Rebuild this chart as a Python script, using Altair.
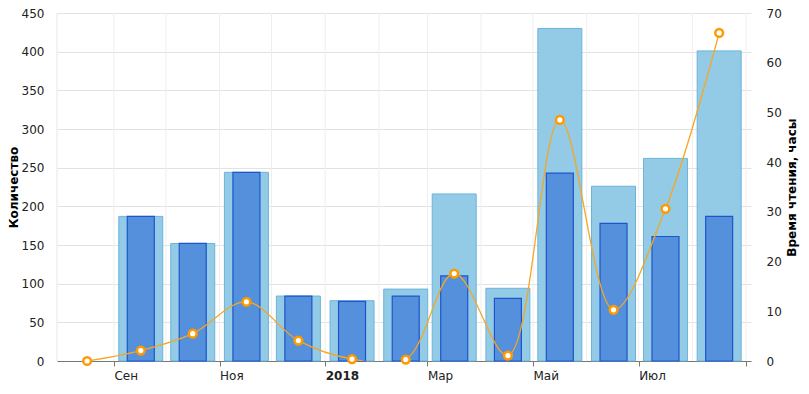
import altair as alt
import pandas as pd

# ---- data ----
bar_months = ["2017-09", "2017-10", "2017-11", "2017-12", "2018-01", "2018-02",
              "2018-03", "2018-04", "2018-05", "2018-06", "2018-07", "2018-08"]
total_counts = [187, 152, 244, 84, 78, 93, 216, 94, 430, 226, 262, 401]
read_counts = [187, 152, 244, 84, 77, 84, 110, 81, 243, 178, 161, 187]

line_months = ["2017-08"] + bar_months
reading_hours = [0, 2.1, 5.5, 11.9, 4.1, 0.4, 0.3, 17.6, 1.1, 48.5, 10.3, 30.6, 66]

grid_months = ["2017-09", "2017-10", "2017-11", "2017-12", "2018-01",
               "2018-02", "2018-03", "2018-04", "2018-05", "2018-06", "2018-07",
               "2018-08", "2018-09"]

FONT = "DejaVu Sans"


def mid(m):
    return m + "-16T12:00:00"


def start(m):
    return m + "-01T00:00:00"


bars = pd.DataFrame({"date": [mid(m) for m in bar_months],
                     "total": total_counts, "read": read_counts})
line = pd.DataFrame({"date": [mid(m) for m in line_months], "hours": reading_hours})
grid = pd.DataFrame({"date": [start(m) for m in grid_months]})

tick_values = [alt.DateTime(year=2017, month=9, date=1),
               alt.DateTime(year=2017, month=11, date=1),
               alt.DateTime(year=2018, month=1, date=1),
               alt.DateTime(year=2018, month=3, date=1),
               alt.DateTime(year=2018, month=5, date=1),
               alt.DateTime(year=2018, month=7, date=1),
               alt.DateTime(year=2018, month=9, date=1)]

label_expr = ("month(datum.value) == 0 ? timeFormat(datum.value, '%Y') : "
              "(datum.value >= time(datetime(2018, 7, 15)) ? '' : "
              "['Янв','Фев','Мар','Апр','Май','Июн','Июл','Авг','Сен','Окт','Ноя','Дек']"
              "[month(datum.value)])")

x_scale = alt.Scale(domain=[alt.DateTime(year=2017, month=8, date=2),
                            alt.DateTime(year=2018, month=9, date=1)], nice=False)
x_axis = alt.Axis(values=tick_values, labelExpr=label_expr, labelAlign="left",
                  labelPadding=4, labelOffset=0, tickSize=5, tickColor="#777777",
                  domainColor="#777777", grid=False, title=None,
                  labelFontWeight={"condition": {"test": "month(datum.value) == 0",
                                                 "value": "bold"},
                                   "value": "normal"})
X = alt.X("date:T", scale=x_scale, axis=x_axis)

left_scale = alt.Scale(domain=[0, 450], nice=False)
left_axis = alt.Axis(values=list(range(0, 451, 50)), title="Количество",
                     domain=False, ticks=False, labelPadding=13,
                     titleX=-49, titleBaseline="top",
                     grid=True, gridColor="#e2e2e2")

# left edge of the plot (light vertical line) plus month-start gridlines
edge = alt.Chart(pd.DataFrame({"v": [0]})).mark_rule(color="#e6e6e6").encode(
    x=alt.value(0))
vgrid = alt.Chart(grid).mark_rule(color="#eeeeee", strokeWidth=1).encode(x=X)

light = alt.Chart(bars).mark_bar(size=44, color="#93cbe6", stroke="#6ab4dc",
                                 strokeWidth=1).encode(
    x=X, y=alt.Y("total:Q", scale=left_scale, axis=left_axis))
dark = alt.Chart(bars).mark_bar(size=27, color="#5490dc", stroke="#1f55cc",
                                strokeWidth=1.2).encode(
    x=X, y=alt.Y("read:Q", scale=left_scale, axis=left_axis))

right_scale = alt.Scale(domain=[0, 70], nice=False)
right_axis = alt.Axis(orient="right", values=list(range(0, 71, 10)),
                      title="Время чтения, часы", titleAngle=270, domain=False,
                      ticks=False, labelPadding=15, titlePadding=17, grid=False)

hline = alt.Chart(line).mark_line(interpolate="catmull-rom", color="#f5a623",
                                  strokeWidth=1.3, clip=True).encode(
    x=X, y=alt.Y("hours:Q", scale=right_scale, axis=right_axis))
pts = alt.Chart(line).mark_point(shape="circle", filled=True, fill="white",
                                 stroke="#ff9900", strokeWidth=2.5, size=60,
                                 opacity=1).encode(
    x=X, y=alt.Y("hours:Q", scale=right_scale, axis=right_axis))

left = alt.layer(edge, vgrid, light, dark)
right = alt.layer(hline, pts)

chart = alt.layer(left, right).resolve_scale(y="independent").properties(
    width=694, height=348,
    autosize=alt.AutoSizeParams(type="none"),
    padding={"left": 49, "top": 5, "right": 50, "bottom": 22},
).configure_view(stroke=None).configure_axis(
    labelFont=FONT, labelFontSize=12, labelColor="#222222",
    titleFont=FONT, titleFontSize=12, titleFontWeight="bold", titleColor="#000000",
)

chart.save("out.html", embed_options={"renderer": "svg", "actions": False})
